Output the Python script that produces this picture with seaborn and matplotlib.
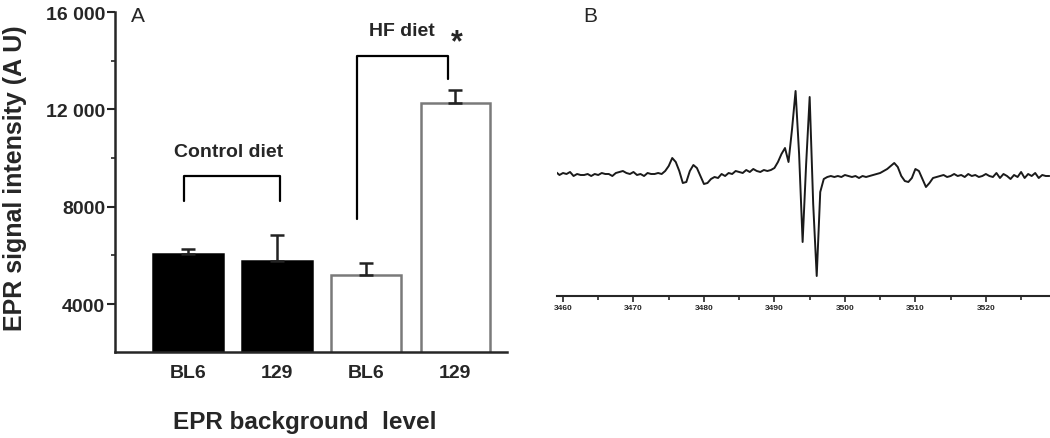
import matplotlib
matplotlib.use("Agg")
import matplotlib.pyplot as plt
import seaborn as sns
import numpy as np
import pandas as pd
from matplotlib.ticker import MultipleLocator, FixedLocator

# panel A data
groups = ["Control BL6", "Control 129", "HF BL6", "HF 129"]
strain_labels = ["BL6", "129", "BL6", "129"]
epr_mean = [6050, 5750, 5200, 12250]
epr_sem = [200, 1100, 500, 550]
bar_colors = ["black", "black", "white", "white"]
edge_colors = ["black", "black", "#7a7a7a", "#7a7a7a"]

# panel B data: EPR spectrum, field in gauss (step 0.5) and signal (a.u.)
field_start = 3459.0
field_step = 0.5
signal = [
    2, -1, 1, 0, 2, -2, 0, -1, -1, 0,
    -2, 0, -1, 1, 0, 0, -2, 1, 2, 3,
    1, 0, 2, -1, 0, -2, 1, 0, 0, 1,
    0, 3, 8, 16, 12, 3, -9, -8, 3, 9,
    6, -2, -10, -9, -5, -3, -4, 0, -2, 1,
    0, 3, 2, 1, 4, 2, 5, 3, 2, 4,
    3, 4, 6, 12, 20, 26, 12, 45, 83, 20,
    -68, 10, 77, -30, -102, -18, -5, -3, -2, -3,
    -2, -3, -1, -2, -3, -2, -4, -2, -3, -2,
    -1, 0, 1, 3, 5, 8, 11, 7, -2, -7,
    -8, -4, 5, 3, -5, -13, -9, -4, -3, -2,
    -1, -3, -2, 0, -2, -1, -3, 0, -2, -1,
    -3, -2, 0, -2, -3, 1, -4, 0, -2, -5,
    -1, -3, 2, -4, 0, -2, 1, -4, -1, -2,
    -2,
]
field = [field_start + field_step * i for i in range(len(signal))]
field_ticks = [3460, 3470, 3480, 3490, 3500, 3510, 3520]

sns.set_style("ticks")
plt.rcParams["font.family"] = ["Liberation Sans", "DejaVu Sans"]

fig = plt.figure(figsize=(10.5, 4.39), dpi=100)

# ---- panel A ----
axA = fig.add_axes([115 / 1050, (439 - 353) / 439, 392 / 1050, 340 / 439])
df = pd.DataFrame({"group": groups, "epr": epr_mean})
sns.barplot(data=df, x="group", y="epr", hue="group", palette=bar_colors,
            legend=False, width=0.78, ax=axA, saturation=1)
for patch, ec in zip(axA.patches, edge_colors):
    patch.set_edgecolor(ec)
    patch.set_linewidth(1.8)
axA.errorbar(range(len(groups)), epr_mean, yerr=[[0] * 4, epr_sem], fmt="none",
             ecolor="#222222", elinewidth=1.8, capsize=5, capthick=1.8)

axA.set_xlim(-0.82, 3.58)
axA.set_ylim(2030, 16000)
axA.yaxis.set_major_locator(FixedLocator([4000, 8000, 12000, 16000]))
axA.yaxis.set_minor_locator(FixedLocator([6000, 10000, 14000]))
axA.set_yticklabels(["4000", "8000", "12 000", "16 000"], fontweight="bold", fontsize=14)
axA.set_xticks(range(4))
axA.set_xticklabels(strain_labels, fontweight="bold", fontsize=14)
axA.tick_params(axis="x", length=0, pad=9)
axA.tick_params(axis="y", which="major", length=6, width=1.5, pad=1)
axA.tick_params(axis="y", which="minor", length=3, width=1.2)
axA.set_xlabel("")
axA.set_ylabel("")
sns.despine(ax=axA)
for s in ["left", "bottom"]:
    axA.spines[s].set_linewidth(1.8)

# brackets
axA.plot([-0.05, -0.05, 1.03, 1.03], [8230, 9260, 9260, 8230], color="black", lw=1.6)
axA.text(0.45, 10250, "Control diet", ha="center", va="center",
         fontsize=14, fontweight="bold")
axA.plot([1.9, 1.9, 2.92, 2.92], [7500, 14190, 14190, 13250], color="black", lw=1.6)
axA.text(2.4, 15250, "HF diet", ha="center", va="center",
         fontsize=14, fontweight="bold")
axA.text(3.02, 14750, "*", ha="center", va="center", fontsize=22, fontweight="bold")

fig.text(138 / 1050, 1 - 17 / 439, "A", ha="center", va="center", fontsize=15)
fig.text(15 / 1050, 1 - 178 / 439, "EPR signal intensity (A U)", rotation=90,
         ha="center", va="center", fontsize=18, fontweight="bold")
fig.text(305 / 1050, 1 - 423 / 439, "EPR background  level", ha="center",
         va="center", fontsize=17.5, fontweight="bold")

# ---- panel B ----
axB = fig.add_axes([557 / 1050, (439 - 297) / 439, 493 / 1050, 237 / 439])
sns.lineplot(x=field, y=signal, ax=axB, color="#1a1a1a", lw=1.4)
axB.set_xlim(3459.15, 3529.1)
axB.set_ylim(-122, 115)
axB.xaxis.set_major_locator(FixedLocator(field_ticks))
axB.xaxis.set_minor_locator(MultipleLocator(5))
axB.set_xticklabels([str(t) for t in field_ticks], fontsize=6, fontweight="bold")
axB.tick_params(axis="x", which="major", length=4, width=1.2, pad=2)
axB.tick_params(axis="x", which="minor", length=3, width=1.2)
axB.set_yticks([])
sns.despine(ax=axB, left=True)
axB.spines["bottom"].set_linewidth(1.5)

fig.text(590 / 1050, 1 - 17 / 439, "B", ha="center", va="center", fontsize=15)

fig.savefig("out.png", dpi=100)
